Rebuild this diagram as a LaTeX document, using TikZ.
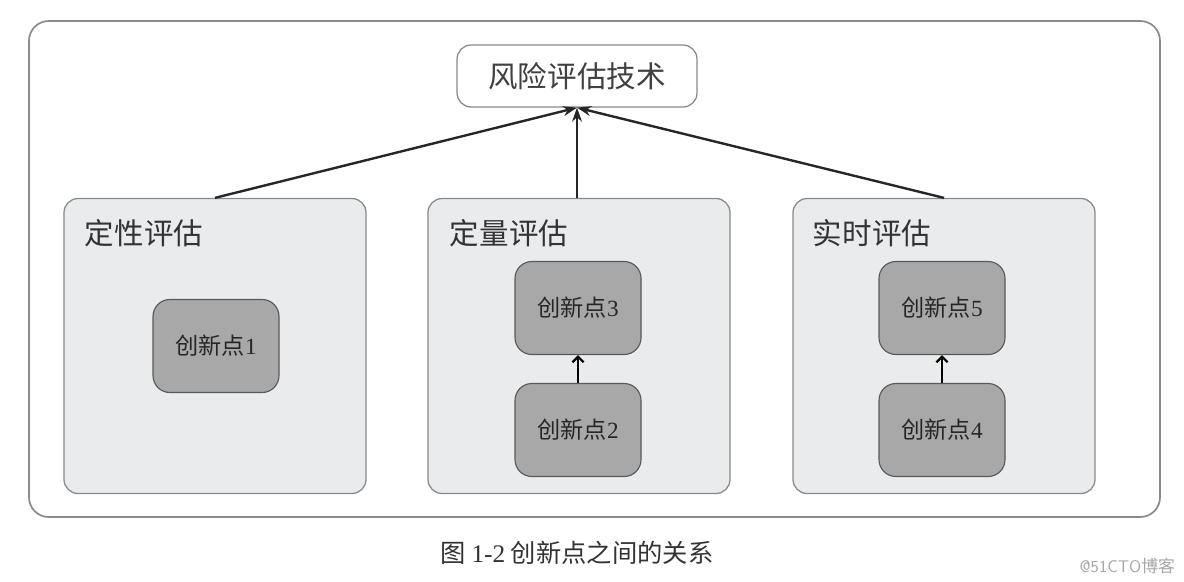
\documentclass[tikz,border=0pt]{standalone}
\usepackage{fontspec}
\setmainfont{Liberation Serif}
\newfontfamily\cjk{Noto Sans CJK SC}
\usetikzlibrary{arrows.meta}
\definecolor{grpfill}{HTML}{EAEBED}
\definecolor{innerfill}{HTML}{A8A8A8}
\definecolor{bordergray}{HTML}{8A8A8A}
\newcommand{\dg}[1]{{\rmfamily #1}}
\tikzset{
  frame/.style={draw=bordergray, line width=1.2pt, rounded corners=14pt},
  topbox/.style={draw=bordergray, line width=0.9pt, fill=white, rounded corners=10pt,
     minimum width=240*0.025cm, minimum height=62*0.025cm, font=\cjk\fontsize{21}{24}\selectfont, text=black!75},
  group/.style={draw=bordergray, line width=0.9pt, fill=grpfill, rounded corners=10pt,
     minimum width=302*0.025cm, minimum height=295*0.025cm},
  grouptitle/.style={anchor=west, font=\cjk\fontsize{21}{24}\selectfont, text=black!80},
  point/.style={draw=black!65, line width=0.8pt, fill=innerfill, rounded corners=12pt,
     minimum width=126*0.025cm, minimum height=93*0.025cm, font=\cjk\fontsize{16.5}{19}\selectfont, text=black!85},
  conn/.style={line width=1.7pt, draw=black!85, -{Stealth[length=10pt,width=7pt]}},
  small/.style={line width=1.6pt, draw=black, -{Straight Barb[length=4pt,width=8pt]}},
}
\begin{document}
\begin{tikzpicture}[x=0.025cm, y=-0.025cm]
\useasboundingbox (0,0) rectangle (1184,581);
\fill[white] (0,0) rectangle (1184,581);
\draw[frame] (29,21) rectangle (1160,517);

\node[topbox] (top) at (577,76) {风险评估技术};

\node[group] (g1) at (215,346) {};
\node[group] (g2) at (579,346) {};
\node[group] (g3) at (944,346) {};

\node[grouptitle] (t1) at (80,233) {定性评估};
\node[grouptitle] (t2) at (445,233) {定量评估};
\node[grouptitle] (t3) at (808,233) {实时评估};

\node[point] (p1) at (216,346) {创新点\dg{1}};
\node[point] (p3) at (578,308) {创新点\dg{3}};
\node[point] (p2) at (578,430) {创新点\dg{2}};
\node[point] (p5) at (942,308) {创新点\dg{5}};
\node[point] (p4) at (942,430) {创新点\dg{4}};

\draw[conn] (g1.north) -- (top.south);
\draw[conn] (g2.north -| top.south) -- (top.south);
\draw[conn] (g3.north) -- (top.south);

\draw[small] (p2) -- (p3);
\draw[small] (p4) -- (p5);

\node[font=\cjk\fontsize{18}{21}\selectfont, text=black!80] (cap) at (577,553) {图 \dg{1-2} 创新点之间的关系};
\node[anchor=east, font=\sffamily\fontsize{12}{14}\selectfont, text=black!35] (wm) at (1180,566) {@51CTO{\cjk 博客}};
\end{tikzpicture}
\end{document}
